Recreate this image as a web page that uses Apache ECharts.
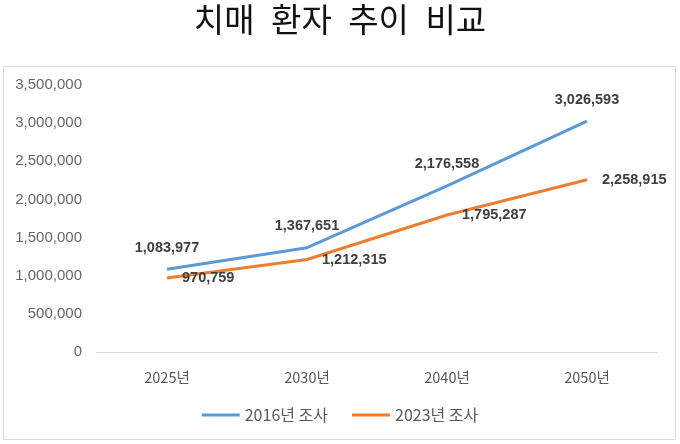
<!DOCTYPE html>
<html><head><meta charset="utf-8">
<script src="https://cdn.jsdelivr.net/npm/echarts@6/dist/echarts.min.js"></script>
<style>html,body{margin:0;padding:0;background:#fff}#c{width:680px;height:444px}</style>
</head><body><div id="c"></div>
<script>
const categories = ['2025년', '2030년', '2040년', '2050년'];
const series2016 = [1083977, 1367651, 2176558, 3026593];
const series2023 = [970759, 1212315, 1795287, 2258915];
const seriesNames = ['2016년 조사', '2023년 조사'];
const titleWords = ['치매', '환자', '추이', '비교'];

const fmt = v => v.toLocaleString('en-US');
const numFont = 'Liberation Sans, Arial, sans-serif';
const krFont = 'Noto Sans CJK KR, sans-serif';
const labelStyle = {color: '#404040', fontSize: 14.5, fontWeight: 'bold', fontFamily: numFont};

const chart = echarts.init(document.getElementById('c'));
chart.setOption({
  animation: false,
  title: {text: titleWords.join('\u2002'), left: 'center', top: -2,
    textStyle: {fontSize: 33, fontWeight: 'normal', color: '#111', fontFamily: krFont}},
  graphic: [{type: 'rect', shape: {x: 3.5, y: 66.5, width: 672, height: 373},
    style: {fill: 'none', stroke: '#d9d9d9', lineWidth: 1}, silent: true}],
  grid: {left: 97, right: 23, top: 85, bottom: 92},
  legend: {data: seriesNames, top: 402, left: 'center', itemWidth: 38, itemHeight: 3, itemGap: 24,
    icon: 'rect',
    textStyle: {color: '#595959', fontSize: 16, fontFamily: krFont}},
  xAxis: {type: 'category', data: categories, boundaryGap: true,
    axisLine: {lineStyle: {color: '#d9d9d9'}}, axisTick: {show: false},
    axisLabel: {color: '#595959', fontSize: 14.5, margin: 18, fontFamily: krFont}},
  yAxis: {type: 'value', min: 0, max: 3500000, interval: 500000,
    axisLine: {show: false}, axisTick: {show: false}, splitLine: {show: false},
    axisLabel: {color: '#666666', fontSize: 15, margin: 15, formatter: v => fmt(v), fontFamily: numFont}},
  series: [
    {name: seriesNames[0], type: 'line', symbol: 'circle', symbolSize: 0, showSymbol: true,
     lineStyle: {width: 3, color: '#5B9BD5'}, itemStyle: {color: '#5B9BD5'},
     data: series2016,
     label: Object.assign({show: true, position: 'top', distance: 14, formatter: p => fmt(p.value)}, labelStyle)},
    {name: seriesNames[1], type: 'line', symbol: 'circle', symbolSize: 0, showSymbol: true,
     lineStyle: {width: 3, color: '#ED7D31'}, itemStyle: {color: '#ED7D31'},
     data: series2023,
     label: Object.assign({show: true, position: 'right', distance: 15, formatter: p => fmt(p.value)}, labelStyle)}
  ]
});
</script></body></html>
